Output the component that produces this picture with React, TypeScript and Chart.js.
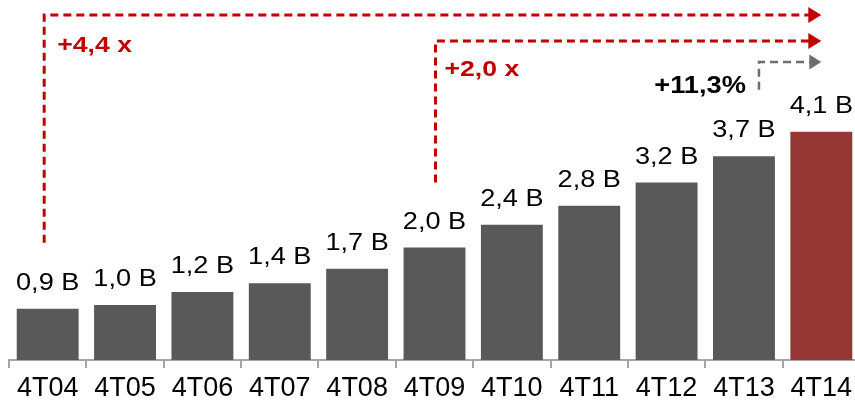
import React, { useEffect, useRef } from "react";
import { Chart, registerables } from "chart.js";

Chart.register(...registerables);

const categories = ["4T04", "4T05", "4T06", "4T07", "4T08", "4T09", "4T10", "4T11", "4T12", "4T13", "4T14"];
const values = [0.92, 0.99, 1.22, 1.38, 1.64, 2.02, 2.43, 2.77, 3.19, 3.66, 4.1];
const valueLabels = ["0,9 B", "1,0 B", "1,2 B", "1,4 B", "1,7 B", "2,0 B", "2,4 B", "2,8 B", "3,2 B", "3,7 B", "4,1 B"];
const barColors = ["#595959", "#595959", "#595959", "#595959", "#595959", "#595959", "#595959", "#595959", "#595959", "#595959", "#953735"];
const growthLabels = ["+4,4 x", "+2,0 x", "+11,3%"];
const growthFrom = [0, 5, 9];
const growthTo = 10;

const FONT = '"Liberation Sans", Arial, Helvetica, sans-serif';
const RED = "#C00000";
const GREY_ARROW = "#6d6d6d";

function stretchText(ctx: CanvasRenderingContext2D, text: string, x: number, y: number, sx: number) {
  ctx.save();
  ctx.translate(x, y);
  ctx.scale(sx, 1);
  ctx.fillText(text, 0, 0);
  ctx.restore();
}

function dashedPath(ctx: CanvasRenderingContext2D, pts: number[][], color: string, width: number) {
  ctx.save();
  ctx.strokeStyle = color;
  ctx.lineWidth = width;
  ctx.setLineDash([8, 5]);
  ctx.beginPath();
  ctx.moveTo(pts[0][0], pts[0][1]);
  for (let i = 1; i < pts.length; i++) ctx.lineTo(pts[i][0], pts[i][1]);
  ctx.stroke();
  ctx.restore();
}

function arrowHead(ctx: CanvasRenderingContext2D, tipX: number, y: number, color: string, w: number, h: number) {
  ctx.save();
  ctx.fillStyle = color;
  ctx.beginPath();
  ctx.moveTo(tipX, y);
  ctx.lineTo(tipX - w, y - h / 2);
  ctx.lineTo(tipX - w, y + h / 2);
  ctx.closePath();
  ctx.fill();
  ctx.restore();
}

const overlayPlugin = {
  id: "overlay",
  afterDatasetsDraw(chart: any) {
    const ctx: CanvasRenderingContext2D = chart.ctx;
    const xs = chart.scales.x;
    const ys = chart.scales.y;
    const meta = chart.getDatasetMeta(0);

    // value labels
    ctx.save();
    ctx.fillStyle = "#000000";
    ctx.font = `23px ${FONT}`;
    ctx.textAlign = "center";
    ctx.textBaseline = "alphabetic";
    meta.data.forEach((bar: any, i: number) => {
      stretchText(ctx, valueLabels[i], bar.x, bar.y - 19, 1.18);
    });
    ctx.restore();

    const tipX = xs.getPixelForValue(growthTo);

    // red arrow 1
    const x1 = xs.getPixelForValue(growthFrom[0]) - 3.5;
    const y1b = ys.getPixelForValue(values[growthFrom[0]]) - 66;
    dashedPath(ctx, [[x1, y1b], [x1, 15], [tipX - 12, 15]], RED, 3);
    arrowHead(ctx, tipX, 15, RED, 13, 16);

    // red arrow 2
    const x2 = xs.getPixelForValue(growthFrom[1]) + 1;
    const y2b = ys.getPixelForValue(values[growthFrom[1]]) - 65;
    dashedPath(ctx, [[x2, y2b], [x2, 41], [tipX - 12, 41]], RED, 3);
    arrowHead(ctx, tipX, 41, RED, 13, 16);

    // grey arrow
    const x3 = xs.getPixelForValue(growthFrom[2]) + 15;
    const y3b = ys.getPixelForValue(values[growthTo]) - 42;
    dashedPath(ctx, [[x3, y3b], [x3, 62], [tipX - 11, 62]], GREY_ARROW, 2.5);
    arrowHead(ctx, tipX, 62, GREY_ARROW, 12, 15);

    // growth labels
    ctx.save();
    ctx.textAlign = "left";
    ctx.textBaseline = "alphabetic";
    ctx.fillStyle = RED;
    ctx.font = `bold 22px ${FONT}`;
    stretchText(ctx, growthLabels[0], x1 + 13, 51.5, 1.21);
    stretchText(ctx, growthLabels[1], x2 + 9, 75.5, 1.21);
    ctx.fillStyle = "#000000";
    ctx.font = `bold 23.5px ${FONT}`;
    ctx.textAlign = "right";
    stretchText(ctx, growthLabels[2], x3 - 13, 92.5, 1.16);
    ctx.restore();
  },
};

export default function App() {
  const canvasRef = useRef<HTMLCanvasElement>(null);

  useEffect(() => {
    if (!canvasRef.current) return;
    const chart = new Chart(canvasRef.current, {
      type: "bar",
      data: {
        labels: categories,
        datasets: [
          {
            data: values,
            backgroundColor: barColors,
            borderWidth: 0,
            categoryPercentage: 1,
            barPercentage: 0.8,
          },
        ],
      },
      options: {
        responsive: false,
        animation: false,
        devicePixelRatio: 1,
        layout: { padding: { left: 9, right: 2, top: 0, bottom: -8 } },
        plugins: {
          legend: { display: false },
          tooltip: { enabled: false },
          title: { display: false },
        },
        scales: {
          x: {
            offset: true,
            grid: {
              offset: true,
              drawOnChartArea: false,
              drawTicks: true,
              tickLength: 8,
              color: "#a6a6a6",
              lineWidth: 2,
            },
            border: { display: true, color: "#a6a6a6", width: 2 },
            ticks: {
              color: "#000000",
              font: { family: FONT, size: 27, lineHeight: 1.0 },
              padding: 7.5,
              maxRotation: 0,
              autoSkip: false,
            },
          },
          y: {
            display: false,
            min: 0,
            max: 6.47,
          },
        },
      },
      plugins: [overlayPlugin],
    });
    return () => chart.destroy();
  }, []);

  return (
    <div
      style={{
        position: "fixed",
        left: 0,
        top: 0,
        width: 855,
        height: 402,
        overflow: "hidden",
        background: "#ffffff",
      }}
    >
      <canvas ref={canvasRef} width={862} height={402} style={{ display: "block" }} />
    </div>
  );
}
